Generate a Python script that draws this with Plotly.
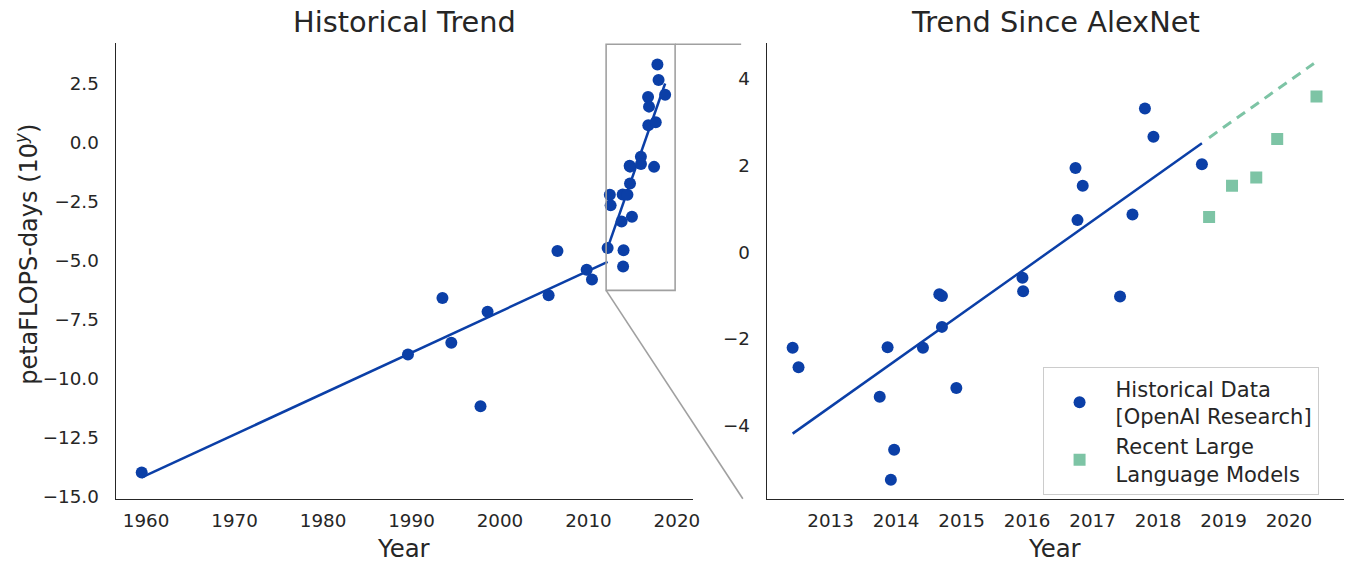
import plotly.graph_objects as go

# ---------------- data ----------------
# Historical data points only shown in the left panel (before / around 2012)
early_years = [1959.5, 1989.6, 1993.5, 1994.5, 1997.8, 1998.6, 2005.5, 2006.5, 2009.8, 2010.4, 2012.17]
early_vals = [-13.96, -8.96, -6.57, -8.47, -11.15, -7.15, -6.46, -4.58, -5.38, -5.79, -4.45]

# OpenAI research data since AlexNet (both panels)
alex_years = [2012.42, 2012.51, 2013.75, 2013.87, 2013.92, 2013.97, 2014.41, 2014.66, 2014.70,
              2014.70, 2014.92, 2015.93, 2015.94, 2016.74, 2016.77, 2016.85, 2017.42, 2017.61,
              2017.80, 2017.93, 2018.67]
alex_vals = [-2.20, -2.65, -3.33, -2.19, -5.24, -4.55, -2.20, -0.97, -1.01,
             -1.72, -3.13, -0.59, -0.90, 1.94, 0.74, 1.53, -1.02, 0.87,
             3.31, 2.66, 2.03]

# Recent large language models
llm_years = [2018.78, 2019.13, 2019.50, 2019.82, 2020.42]
llm_vals = [0.81, 1.53, 1.72, 2.61, 3.59]

# Trend lines (end points)
trend_pre_years = [1959.5, 2012.17]
trend_pre_vals = [-14.17, -5.04]
trend_post_left_years = [2012.17, 2018.67]
trend_post_left_vals = [-4.45, 2.51]
trend_post_right_years = [2012.42, 2018.67]
trend_post_right_vals = [-4.18, 2.51]
proj_years = [2018.78, 2020.38]
proj_vals = [2.64, 4.35]

# zoom box (data coords of left panel)
zoom_x = [2012.0, 2019.8]
zoom_y = [-6.25, 4.17]

# tick labels
left_xticks = [1960, 1970, 1980, 1990, 2000, 2010, 2020]
left_yticks = [2.5, 0.0, -2.5, -5.0, -7.5, -10.0, -12.5, -15.0]
left_ytext = ["2.5", "0.0", "\u22122.5", "\u22125.0", "\u22127.5", "\u221210.0", "\u221212.5", "\u221215.0"]
right_xticks = [2013, 2014, 2015, 2016, 2017, 2018, 2019, 2020]
right_yticks = [4, 2, 0, -2, -4]
right_ytext = ["4", "2", "0", "\u22122", "\u22124"]

# ---------------- styling ----------------
BLUE = "#0b3fa7"
GREEN = "#7dc4a5"
INK = "#262626"
GRAY = "#a0a0a0"
FONT = "DejaVu Sans"
W, H = 1351, 573

L_DOM_X = [116.2 / W, 696.6 / W]
R_DOM_X = [770.7 / W, 1.0]
DOM_Y = [1 - 506.7 / H, 1 - 43.3 / H]
L_RX = [1956.55, 2021.82]
L_RY = [-15.07, 4.24]
R_RX = [2012.024, 2020.84]
R_RY = [-5.68, 4.83]

fig = go.Figure()

# left panel
fig.add_trace(go.Scatter(x=trend_pre_years, y=trend_pre_vals, mode="lines",
                         line=dict(color=BLUE, width=2.5), showlegend=False,
                         xaxis="x", yaxis="y"))
fig.add_trace(go.Scatter(x=trend_post_left_years, y=trend_post_left_vals, mode="lines",
                         line=dict(color=BLUE, width=2.5), showlegend=False,
                         xaxis="x", yaxis="y"))
fig.add_trace(go.Scatter(x=early_years + alex_years, y=early_vals + alex_vals, mode="markers",
                         marker=dict(color=BLUE, size=12, line=dict(width=0)),
                         showlegend=False, xaxis="x", yaxis="y"))

# right panel
fig.add_trace(go.Scatter(x=trend_post_right_years, y=trend_post_right_vals, mode="lines",
                         line=dict(color=BLUE, width=2.5), showlegend=False,
                         xaxis="x2", yaxis="y2"))
fig.add_trace(go.Scatter(x=proj_years, y=proj_vals, mode="lines",
                         line=dict(color=GREEN, width=3, dash="10px,7px"), showlegend=False,
                         xaxis="x2", yaxis="y2"))
fig.add_trace(go.Scatter(x=alex_years, y=alex_vals, mode="markers",
                         marker=dict(color=BLUE, size=12, line=dict(width=0)),
                         name="Historical Data<br>[OpenAI Research]",
                         xaxis="x2", yaxis="y2"))
fig.add_trace(go.Scatter(x=llm_years, y=llm_vals, mode="markers",
                         marker=dict(color=GREEN, size=12, symbol="square", line=dict(width=0)),
                         name="Recent Large<br>Language Models",
                         xaxis="x2", yaxis="y2"))


def frac(v, rng, dom):
    return dom[0] + (v - rng[0]) / (rng[1] - rng[0]) * (dom[1] - dom[0])


shapes = [
    dict(type="rect", xref="x", yref="y", x0=zoom_x[0], x1=zoom_x[1], y0=zoom_y[0], y1=zoom_y[1],
         line=dict(color=GRAY, width=1.6), fillcolor="rgba(0,0,0,0)"),
    dict(type="line", xref="paper", yref="paper",
         x0=frac(zoom_x[1], L_RX, L_DOM_X), y0=frac(zoom_y[1], L_RY, DOM_Y),
         x1=745.0 / W, y1=frac(zoom_y[1], L_RY, DOM_Y),
         line=dict(color=GRAY, width=1.6)),
    dict(type="line", xref="paper", yref="paper",
         x0=frac(zoom_x[0], L_RX, L_DOM_X), y0=frac(zoom_y[0], L_RY, DOM_Y),
         x1=746.7 / W, y1=DOM_Y[0],
         line=dict(color=GRAY, width=1.6)),
]

axis_common = dict(showgrid=False, zeroline=False, showline=True, linecolor=INK, linewidth=1.25,
                   ticks="outside", tickcolor="rgba(0,0,0,0)",
                   tickfont=dict(family=FONT, size=18.3, color=INK))

annotations = [
    dict(text="Historical Trend", x=(L_DOM_X[0] + L_DOM_X[1]) / 2, y=1 - 22.5 / H,
         xref="paper", yref="paper", xanchor="center", yanchor="middle", showarrow=False,
         font=dict(family=FONT, size=28.8, color=INK)),
    dict(text="Trend Since AlexNet", x=(R_DOM_X[0] + R_DOM_X[1]) / 2, y=1 - 22.5 / H,
         xref="paper", yref="paper", xanchor="center", yanchor="middle", showarrow=False,
         font=dict(family=FONT, size=28.8, color=INK)),
    dict(text="Year", x=(L_DOM_X[0] + L_DOM_X[1]) / 2, y=1 - 557 / H,
         xref="paper", yref="paper", xanchor="center", yanchor="middle", showarrow=False,
         font=dict(family=FONT, size=24.4, color=INK)),
    dict(text="Year", x=(R_DOM_X[0] + R_DOM_X[1]) / 2, y=1 - 557 / H,
         xref="paper", yref="paper", xanchor="center", yanchor="middle", showarrow=False,
         font=dict(family=FONT, size=24.4, color=INK)),
    dict(text="petaFLOPS-days (10<sup><i>y</i></sup>)", x=27.0 / W, y=1 - 258 / H,
         xref="paper", yref="paper", xanchor="center", yanchor="middle", showarrow=False,
         textangle=-90, font=dict(family=FONT, size=24, color=INK)),
]

fig.update_layout(
    width=W, height=H,
    margin=dict(l=0, r=0, t=0, b=0),
    paper_bgcolor="white", plot_bgcolor="white",
    font=dict(family=FONT, color=INK),
    xaxis=dict(domain=L_DOM_X, range=L_RX, tickvals=left_xticks, ticklen=5, anchor="y", **axis_common),
    yaxis=dict(domain=DOM_Y, range=L_RY, tickvals=left_yticks, ticktext=left_ytext, ticklen=12,
               anchor="x", **axis_common),
    xaxis2=dict(domain=R_DOM_X, range=R_RX, tickvals=right_xticks, ticklen=5, anchor="y2", **axis_common),
    yaxis2=dict(domain=DOM_Y, range=R_RY, tickvals=right_yticks, ticktext=right_ytext, ticklen=12,
                anchor="x2", **axis_common),
    shapes=shapes,
    annotations=annotations,
    legend=dict(x=1048.0 / W, y=1 - 373.3 / H, xanchor="left", yanchor="top",
                bgcolor="rgba(255,255,255,0.8)", bordercolor="#cccccc", borderwidth=1,
                font=dict(family=FONT, size=21, color=INK), itemwidth=62, tracegroupgap=0),
    showlegend=True,
)

POST = (
    "var de=document.documentElement, b=document.body;"
    "b.style.margin='0'; b.style.padding='0'; b.style.overflow='hidden'; de.style.overflow='hidden';"
)

fig.write_html("out.html", config={"displayModeBar": False}, post_script=POST)
